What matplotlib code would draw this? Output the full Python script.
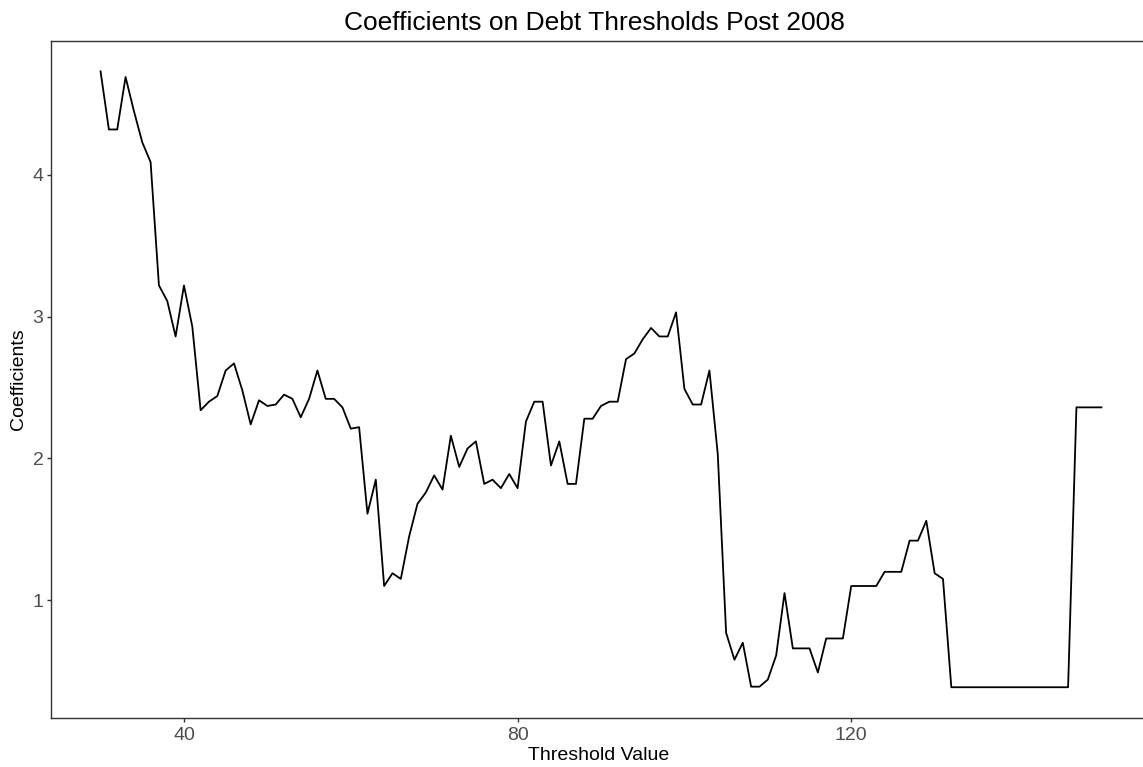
import matplotlib
matplotlib.use('Agg')
import matplotlib.pyplot as plt

plt.rcParams['font.family'] = ['Liberation Sans', 'DejaVu Sans']

# threshold grid and coefficients
thresholds = list(range(30, 151))
coefs = [
    4.73, 4.32, 4.32, 4.69, 4.45, 4.23, 4.09, 3.22, 3.11, 2.86,   # 30-39
    3.22, 2.93, 2.34, 2.40, 2.44, 2.62, 2.67, 2.48, 2.24, 2.41,   # 40-49
    2.37, 2.38, 2.45, 2.42, 2.29, 2.42, 2.62, 2.42, 2.42, 2.36,   # 50-59
    2.21, 2.22, 1.61, 1.85, 1.10, 1.19, 1.15, 1.45, 1.68, 1.76,   # 60-69
    1.88, 1.78, 2.16, 1.94, 2.07, 2.12, 1.82, 1.85, 1.79, 1.89,   # 70-79
    1.79, 2.26, 2.40, 2.40, 1.95, 2.12, 1.82, 1.82, 2.28, 2.28,   # 80-89
    2.37, 2.40, 2.40, 2.70, 2.74, 2.84, 2.92, 2.86, 2.86, 3.03,   # 90-99
    2.49, 2.38, 2.38, 2.62, 2.03, 0.77, 0.58, 0.70, 0.39, 0.39,   # 100-109
    0.44, 0.61, 1.05, 0.66, 0.66, 0.66, 0.49, 0.73, 0.73, 0.73,   # 110-119
    1.10, 1.10, 1.10, 1.10, 1.20, 1.20, 1.20, 1.42, 1.42, 1.56,   # 120-129
    1.19, 1.15, 0.386, 0.386, 0.386, 0.386, 0.386, 0.386, 0.386, 0.386,  # 130-139
    0.386, 0.386, 0.386, 0.386, 0.386, 0.386, 0.386, 2.36, 2.36, 2.36,   # 140-149
    2.36,                                                          # 150
]
xticks = [40, 80, 120]
yticks = [1, 2, 3, 4]

W, H = 1143, 767
fig = plt.figure(figsize=(W / 100, H / 100), dpi=100)
left, bottom, top = 50.5, 718, 41
right = 1151.5
ax = fig.add_axes([left / W, 1 - bottom / H, (right - left) / W, (bottom - top) / H])

ax.plot(thresholds, coefs, color='black', lw=1.3)

ax.set_xlim(24, 156)
ax.set_ylim(0.169, 4.944)
ax.set_xticks(xticks)
ax.set_yticks(yticks)
ax.tick_params(axis='both', length=3, width=1, color='#333333',
               labelsize=14, labelcolor='#4D4D4D')
ax.tick_params(axis='x', pad=3.5)
ax.tick_params(axis='y', pad=2)
ax.spines['right'].set_visible(False)
for s in ['left', 'bottom', 'top']:
    ax.spines[s].set_color('#333333')
    ax.spines[s].set_linewidth(1.0)

fig.text(594 / W, 1 - 30 / H, 'Coefficients on Debt Thresholds Post 2008',
         ha='center', va='baseline', fontsize=19, color='black')
fig.text(599 / W, 1 - 760 / H, 'Threshold Value',
         ha='center', va='baseline', fontsize=14, color='black')
fig.text(18.5 / W, 1 - 379 / H, 'Coefficients', rotation=90,
         ha='center', va='center', fontsize=14, color='black')

fig.savefig('out.png', dpi=100)
